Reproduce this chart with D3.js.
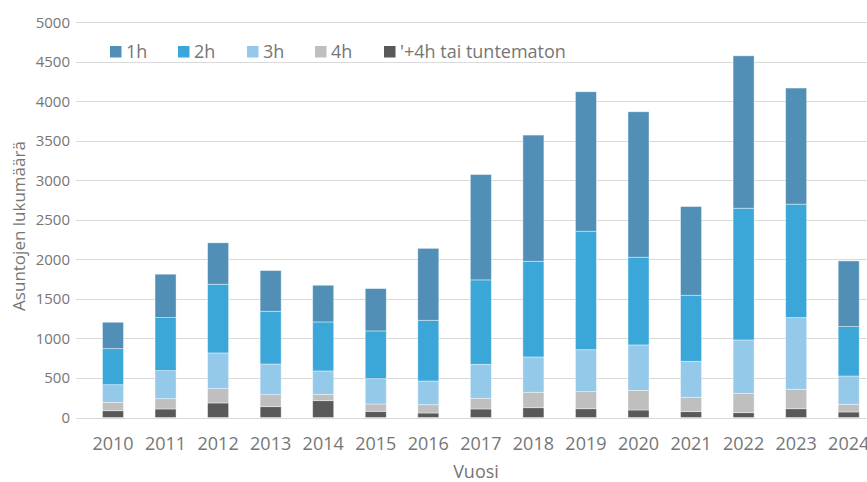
<!DOCTYPE html>
<html>
<head>
<meta charset="utf-8">
<script src="https://cdnjs.cloudflare.com/ajax/libs/d3/7.8.5/d3.min.js"></script>
<style>
	body { margin: 0; background: #fff; }
	text { font-family: "Open Sans", "Noto Sans", sans-serif; fill: #767676; }
</style>
</head>
<body>
<div id="main"></div>
<script>

var years = ["2010", "2011", "2012", "2013", "2014", "2015", "2016", "2017", "2018", "2019", "2020", "2021", "2022", "2023", "2024"]
var seriesNames = ["'+4h tai tuntematon", "4h", "3h", "2h", "1h"]
var legendOrder = ["1h", "2h", "3h", "4h", "'+4h tai tuntematon"]

// values, per year
var plus4h = [86, 108, 184, 137, 213, 78, 57, 108, 124, 111, 95, 74, 61, 111, 70]
var h4 = [106, 130, 181, 152, 80, 93, 105, 135, 195, 216, 249, 182, 245, 246, 97]
var h3 = [223, 355, 452, 388, 296, 320, 300, 430, 447, 531, 574, 455, 675, 907, 358]
var h2 = [456, 671, 869, 667, 620, 604, 768, 1068, 1211, 1499, 1110, 836, 1667, 1435, 625]
var h1 = [334, 549, 524, 515, 464, 536, 910, 1333, 1596, 1764, 1840, 1122, 1928, 1469, 831]

var yTicks = [0, 500, 1000, 1500, 2000, 2500, 3000, 3500, 4000, 4500, 5000]

var colors = {
	"1h": "#518fb6",
	"2h": "#3ba7d9",
	"3h": "#94c9ea",
	"4h": "#bfbfbf",
	"'+4h tai tuntematon": "#595959"
}

var w = 867, h = 482

var rows = years.map(function(y, i) {
	return { year: y, "'+4h tai tuntematon": plus4h[i], "4h": h4[i], "3h": h3[i], "2h": h2[i], "1h": h1[i] }
})

var svg = d3.select("#main")
	.append("svg")
	.attr("width", w)
	.attr("height", h)

var y = d3.scaleLinear()
	.domain([0, 5000])
	.range([417.5, 22.3])

var step = 52.55
var x = d3.scaleBand()
	.domain(years)
	.range([113 - step / 2, 113 - step / 2 + step * years.length])
	.padding(0)
var barW = step * 0.4

// gridlines
svg.append("g")
	.selectAll("line")
	.data(yTicks)
	.enter()
	.append("line")
	.attr("x1", 76)
	.attr("x2", w)
	.attr("y1", function(d) { return Math.round(y(d)) + 0.5 })
	.attr("y2", function(d) { return Math.round(y(d)) + 0.5 })
	.attr("stroke", "#d9d9d9")
	.attr("stroke-width", 1.2)

// y axis labels
svg.append("g")
	.selectAll("text")
	.data(yTicks)
	.enter()
	.append("text")
	.attr("x", 70)
	.attr("y", function(d) { return y(d) })
	.attr("dy", "0.36em")
	.attr("text-anchor", "end")
	.attr("font-size", "15px")
	.text(function(d) { return d })

var stack = d3.stack().keys(seriesNames)
var layers = stack(rows)

svg.append("g")
	.selectAll("g")
	.data(layers)
	.enter()
	.append("g")
	.attr("fill", function(d) { return colors[d.key] })
	.selectAll("rect")
	.data(function(d) { return d })
	.enter()
	.append("rect")
	.attr("x", function(d) { return x(d.data.year) + (step - barW) / 2 })
	.attr("y", function(d) { return y(d[1]) })
	.attr("width", barW)
	.attr("height", function(d) { return y(d[0]) - y(d[1]) })
	.attr("stroke", "rgba(255,255,255,0.5)")
	.attr("stroke-width", 0.8)

// x axis labels
svg.append("g")
	.selectAll("text")
	.data(years)
	.enter()
	.append("text")
	.attr("x", function(d) { return x(d) + step / 2 })
	.attr("y", 450)
	.attr("text-anchor", "middle")
	.attr("font-size", "18px")
	.text(function(d) { return d })

// axis titles
svg.append("text")
	.attr("x", 476)
	.attr("y", 478)
	.attr("text-anchor", "middle")
	.attr("font-size", "18px")
	.text("Vuosi")

svg.append("text")
	.attr("transform", "translate(25,226) rotate(-90)")
	.attr("text-anchor", "middle")
	.attr("font-size", "17px")
	.text("Asuntojen lukumäärä")

// legend
var legendX = [110, 178, 247, 315, 384]
var legend = svg.append("g")
	.selectAll("g")
	.data(legendOrder)
	.enter()
	.append("g")
	.attr("transform", function(d, i) { return "translate(" + legendX[i] + ",46)" })

legend.append("rect")
	.attr("width", 11.5)
	.attr("height", 11.5)
	.attr("fill", function(d) { return colors[d] })

legend.append("text")
	.attr("x", 16)
	.attr("y", 6)
	.attr("dy", "0.36em")
	.attr("font-size", "18px")
	.text(function(d) { return d })

</script>
</body>
</html>
